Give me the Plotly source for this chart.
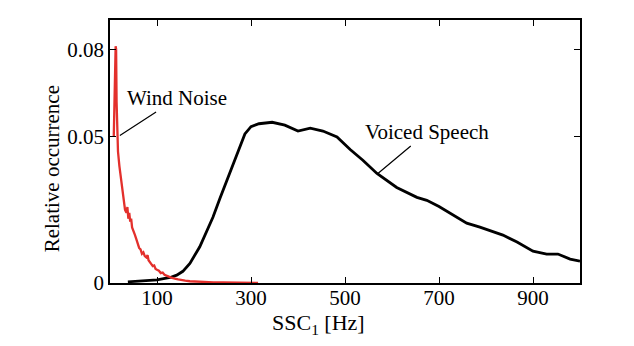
import plotly.graph_objects as go

# Voiced speech distribution
speech_x = [38, 60, 80, 100, 128, 142, 155, 170, 191, 206, 219, 234, 262, 287, 300, 317, 345, 372,
            400, 426, 453, 483, 511, 538, 568, 590, 610, 653, 674, 700, 723, 759, 787, 836, 866,
            900, 929, 953, 979, 1000]
speech_y = [0.0004, 0.0006, 0.0008, 0.0011, 0.0019, 0.0027, 0.0040, 0.0067, 0.0124, 0.0175,
            0.0225, 0.0290, 0.0410, 0.0510, 0.0535, 0.0545, 0.0550, 0.0540, 0.0520, 0.0530,
            0.0520, 0.0500, 0.0457, 0.0420, 0.0375, 0.0350, 0.0327, 0.0293, 0.0283, 0.0262,
            0.0239, 0.0205, 0.0191, 0.0164, 0.0140, 0.0109, 0.0099, 0.0099, 0.0082, 0.0075]

# Wind noise distribution
wind_x = [8, 10, 12, 13, 14, 15, 17, 20, 23, 26, 29, 32, 35, 37, 39, 41, 43, 45, 47, 50, 53, 56,
          59, 62, 65, 68, 71, 74, 77, 80, 82, 85, 88, 91, 94, 97, 100, 104, 108, 112, 116, 120,
          125, 130, 135, 140, 145, 150, 160, 170, 180, 190, 200, 220, 240, 260, 280, 300, 315]
wind_y = [0.050, 0.062, 0.081, 0.080, 0.062, 0.051, 0.045, 0.040, 0.036, 0.031, 0.029, 0.025,
          0.024, 0.026, 0.022, 0.024, 0.021, 0.022, 0.019, 0.018, 0.0165, 0.015, 0.0135, 0.012,
          0.0115, 0.010, 0.0105, 0.0092, 0.0088, 0.0095, 0.0078, 0.0070, 0.0062, 0.0058, 0.0060,
          0.0048, 0.0045, 0.0042, 0.0034, 0.0036, 0.0028, 0.0026, 0.0022, 0.0018, 0.0017,
          0.0014, 0.0012, 0.0010, 0.0008, 0.0006, 0.0005, 0.0004, 0.0003, 0.0002, 0.0002,
          0.0001, 0.0001, 0.0001, 0.0]

x_ticks = [100, 300, 500, 700, 900]
y_ticks = [0, 0.05, 0.08]
y_tick_labels = ["0", "0.05", "0.08"]

FONT = "Liberation Serif"

fig = go.Figure()
fig.add_trace(go.Scatter(x=speech_x, y=speech_y, mode="lines",
                         line=dict(color="black", width=2.8), showlegend=False))
fig.add_trace(go.Scatter(x=wind_x, y=wind_y, mode="lines",
                         line=dict(color="#e3302c", width=2.3), showlegend=False))

fig.add_annotation(x=21, y=0.0505, text="Wind Noise", showarrow=True, arrowhead=0,
                   arrowwidth=1.2, arrowcolor="black", ax=57, ay=-37,
                   font=dict(family=FONT, size=21, color="black"))
fig.add_annotation(x=570, y=0.0375, text="Voiced Speech", showarrow=True, arrowhead=0,
                   arrowwidth=1.2, arrowcolor="black", ax=49, ay=-41,
                   font=dict(family=FONT, size=21, color="black"))

fig.add_annotation(x=0.443, y=-0.155, xref="paper", yref="paper", showarrow=False,
                   text="SSC<sub>1</sub> [Hz]", xanchor="center", yanchor="middle",
                   font=dict(family=FONT, size=22, color="black"))
fig.add_annotation(x=-0.123, y=0.433, xref="paper", yref="paper", showarrow=False,
                   text="Relative occurrence", textangle=-90, xanchor="center", yanchor="middle",
                   font=dict(family=FONT, size=21, color="black"))

axis_common = dict(showline=True, linecolor="black", linewidth=1.5, mirror="ticks",
                   ticks="inside", ticklen=6, tickcolor="black", tickwidth=1,
                   showgrid=False, zeroline=False,
                   tickfont=dict(family=FONT, size=21, color="black"))

fig.update_xaxes(range=[0, 1000], tickvals=x_ticks, ticklabelstandoff=-5, **axis_common)
fig.update_yaxes(range=[0, 0.09], tickvals=y_ticks, ticktext=y_tick_labels, **axis_common)

fig.update_layout(width=634, height=346, margin=dict(l=110, r=54, t=20, b=63),
                  paper_bgcolor="white", plot_bgcolor="white")

fig.write_html("out.html")
